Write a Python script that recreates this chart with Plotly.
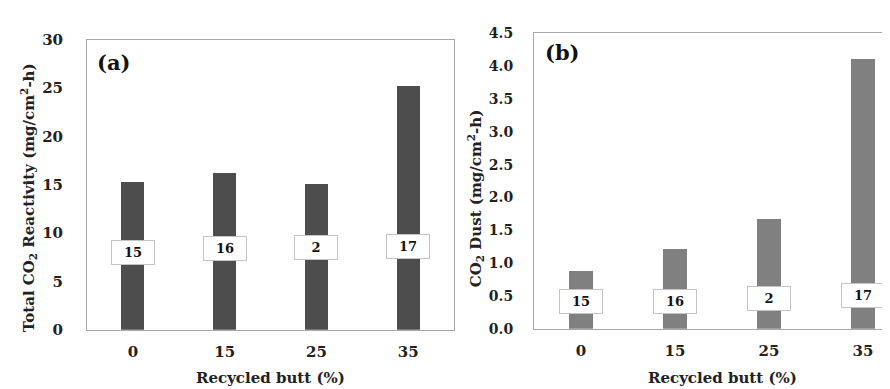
import plotly.graph_objects as go

categories = ["0", "15", "25", "35"]
reactivity = [15.3, 16.25, 15.1, 25.2]
dust = [0.88, 1.22, 1.67, 4.11]
box_labels = ["15", "16", "2", "17"]
box_y_a = [8.0, 8.4, 8.5, 8.6]
box_y_b = [0.42, 0.42, 0.46, 0.51]
ticks_a = [0, 5, 10, 15, 20, 25, 30]
ticks_b = [0.0, 0.5, 1.0, 1.5, 2.0, 2.5, 3.0, 3.5, 4.0, 4.5]

W, H = 890, 389
FONT = "DejaVu Serif"
frame = "#a8a8a8"

def px_x(p):
    return p / W

def px_y(p):
    return (H - p) / H

fig = go.Figure()
fig.add_trace(go.Bar(x=categories, y=reactivity, width=0.25,
                     marker=dict(color="#4d4d4d", line=dict(width=0)),
                     xaxis="x", yaxis="y", showlegend=False))
fig.add_trace(go.Bar(x=categories, y=dust, width=0.25,
                     marker=dict(color="#808080", line=dict(width=0)),
                     xaxis="x2", yaxis="y2", showlegend=False))

tickfont = dict(family=FONT, size=15, color="#222", weight="bold")
tickfont_b = dict(family=FONT, size=14, color="#222", weight="bold")
common_x = dict(type="category", showgrid=False, zeroline=False, showline=True,
                linecolor=frame, linewidth=1, mirror=True, ticks="outside",
                ticklen=8, tickcolor="rgba(0,0,0,0)", tickfont=tickfont)

fig.update_layout(
    width=W, height=H, margin=dict(l=0, r=0, t=0, b=0),
    paper_bgcolor="white", plot_bgcolor="white", bargap=0,
    xaxis=dict(domain=[px_x(79), px_x(446)], anchor="y", range=[-0.5, 3.5], **common_x),
    yaxis=dict(domain=[px_y(328), px_y(24)], anchor="x", range=[0, 30],
               tickvals=ticks_a, showgrid=False, zeroline=False, showline=True,
               linecolor=frame, linewidth=1, mirror=True, ticks="outside",
               ticklen=20, tickcolor="rgba(0,0,0,0)", tickfont=tickfont),
    xaxis2=dict(domain=[px_x(526), 1.0], anchor="y2", range=[-0.5, 3.372], **common_x),
    yaxis2=dict(domain=[px_y(327), px_y(17)], anchor="x2", range=[0, 4.5],
                tickvals=ticks_b, tickformat=".1f", showgrid=False, zeroline=False,
                showline=True, linecolor=frame, linewidth=1, mirror=False,
                ticks="outside", ticklen=17, tickcolor="rgba(0,0,0,0)", tickfont=tickfont_b),
)

box_font = dict(family=FONT, size=13, color="#111", weight="bold")
annos = []
for i, (t, yv) in enumerate(zip(box_labels, box_y_a)):
    annos.append(dict(x=i, y=yv, xref="x", yref="y", text=t, showarrow=False,
                      font=box_font, bgcolor="white", bordercolor="#c4c4c4",
                      borderwidth=1, borderpad=1, width=40, height=21))
for i, (t, yv) in enumerate(zip(box_labels, box_y_b)):
    annos.append(dict(x=i, y=yv, xref="x2", yref="y2", text=t, showarrow=False,
                      font=box_font, bgcolor="white", bordercolor="#c4c4c4",
                      borderwidth=1, borderpad=1, width=40, height=21))

title_font = dict(family=FONT, size=15, color="#222", weight="bold")
annos += [
    dict(x=px_x(262), y=px_y(379), xref="paper", yref="paper", text="Recycled butt (%)",
         showarrow=False, font=title_font, xanchor="center", yanchor="middle"),
    dict(x=px_x(714), y=px_y(379), xref="paper", yref="paper", text="Recycled butt (%)",
         showarrow=False, font=title_font, xanchor="center", yanchor="middle"),
    dict(x=px_x(20), y=px_y(190), xref="paper", yref="paper",
         text="Total CO<sub>2</sub> Reactivity (mg/cm<sup>2</sup>-h)", textangle=-90,
         showarrow=False, font=title_font, xanchor="center", yanchor="middle"),
    dict(x=px_x(467), y=px_y(190), xref="paper", yref="paper",
         text="CO<sub>2</sub> Dust (mg/cm<sup>2</sup>-h)", textangle=-90,
         showarrow=False, font=title_font, xanchor="center", yanchor="middle"),
    dict(x=px_x(87), y=px_y(48), xref="paper", yref="paper", text="(a)",
         showarrow=False, font=dict(family=FONT, size=21, color="#111", weight="bold"),
         xanchor="left", yanchor="middle"),
    dict(x=px_x(535), y=px_y(37), xref="paper", yref="paper", text="(b)",
         showarrow=False, font=dict(family=FONT, size=21, color="#111", weight="bold"),
         xanchor="left", yanchor="middle"),
]
fig.update_layout(annotations=annos)

fig.write_html("out.html")
